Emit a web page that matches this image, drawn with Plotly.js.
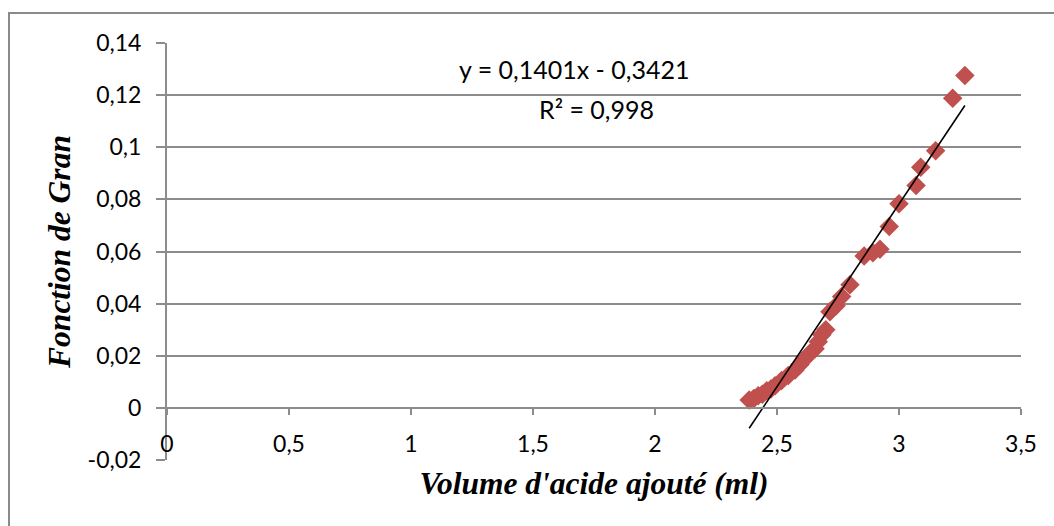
<!DOCTYPE html>
<html>
<head>
<meta charset="utf-8">
<script src="https://cdn.plot.ly/plotly-3.0.1.min.js"></script>
<style>
  html, body { margin: 0; padding: 0; background: #fff; }
  #wrap { position: relative; width: 1054px; height: 526px; overflow: hidden; }
  #chart { position: absolute; left: 0; top: 0; width: 1054px; height: 526px; }
  #frame { position: absolute; left: 8px; top: 12px; width: 1100px; height: 600px;
           border: 2px solid #8a8a8a; pointer-events: none; }
</style>
</head>
<body>
<div id="wrap">
  <div id="chart"></div>
  <div id="frame"></div>
</div>
<script>
// Volume d'acide ajouté (ml)
const volume = [2.386, 2.405, 2.423, 2.440, 2.458, 2.475, 2.492, 2.519, 2.546, 2.574, 2.594, 2.615, 2.635,
                2.656, 2.669, 2.684, 2.700, 2.717, 2.742, 2.765, 2.799, 2.857, 2.893,
                2.922, 2.960, 3.000, 3.070, 3.089, 3.150, 3.220, 3.270];
// Fonction de Gran
const gran = [0.0030, 0.0036, 0.0047, 0.0052, 0.0066, 0.0072, 0.0085, 0.0105, 0.0124, 0.0145, 0.0166, 0.0189, 0.0210,
              0.0227, 0.0254, 0.0281, 0.0300, 0.0369, 0.0392, 0.0427, 0.0472, 0.0583, 0.0595,
              0.0609, 0.0696, 0.0783, 0.0853, 0.0923, 0.0987, 0.1188, 0.1275];
// Linear trendline coefficients (as displayed)
const slope = 0.1401;
const intercept = -0.3421;
const r2 = "0,998";

const xTickVals = [0, 0.5, 1, 1.5, 2, 2.5, 3, 3.5];
const xTickText = ["0", "0,5", "1", "1,5", "2", "2,5", "3", "3,5"];
const yTickVals = [-0.02, 0, 0.02, 0.04, 0.06, 0.08, 0.1, 0.12, 0.14];
const yTickText = ["-0,02", "0", "0,02", "0,04", "0,06", "0,08", "0,1", "0,12", "0,14"];

const xMin = Math.min(...volume), xMax = Math.max(...volume);
const trendX = [xMin, xMax];
const trendY = trendX.map(v => slope * v + intercept);

const gridCol = "#8c8c8c";
const tickFont = { family: "Lato, 'Open Sans', sans-serif", size: 23, color: "#000" };
const titleFont = { family: "'Liberation Serif', 'DejaVu Serif', serif", size: 31.5, color: "#000", weight: "bold", style: "italic" };

const data = [
  {
    x: volume, y: gran, type: "scatter", mode: "markers",
    marker: { symbol: "diamond", size: 15, color: "#C0504D", line: { width: 0 } },
    hoverinfo: "skip", showlegend: false
  },
  {
    x: trendX, y: trendY, type: "scatter", mode: "lines",
    line: { color: "#000", width: 1.6 },
    hoverinfo: "skip", showlegend: false
  }
];

const layout = {
  width: 1054, height: 526,
  margin: { l: 167, r: 33, t: 43, b: 66 },
  paper_bgcolor: "rgba(0,0,0,0)", plot_bgcolor: "rgba(0,0,0,0)",
  showlegend: false,
  xaxis: {
    range: [0, 3.5], anchor: "free", position: 0.125,
    tickvals: xTickVals, ticktext: xTickText,
    showgrid: false, zeroline: false,
    showline: true, linecolor: gridCol, linewidth: 2,
    ticks: "outside", ticklen: 6, tickwidth: 2, tickcolor: gridCol,
    ticklabelstandoff: 10,
    tickfont: tickFont,
    title: { text: "Volume d'acide ajouté (ml)", font: titleFont, standoff: 14 }
  },
  yaxis: {
    range: [-0.02, 0.14],
    tickvals: yTickVals, ticktext: yTickText,
    showgrid: true, gridcolor: gridCol, gridwidth: 2,
    zeroline: false,
    showline: true, linecolor: gridCol, linewidth: 2,
    ticks: "outside", ticklen: 9, tickwidth: 2, tickcolor: gridCol,
    ticklabelstandoff: 10,
    tickfont: tickFont,
    title: { text: "Fonction de Gran", font: titleFont, standoff: 8 }
  },
  annotations: [
    { x: 1.668, y: 0.130, xref: "x", yref: "y", text: "y = 0,1401x - 0,3421", showarrow: false,
      font: { family: "Lato, 'Open Sans', sans-serif", size: 25, color: "#000" } },
    { x: 1.762, y: 0.1147, xref: "x", yref: "y", text: "R² = " + r2, showarrow: false,
      font: { family: "Lato, 'Open Sans', sans-serif", size: 25, color: "#000" } }
  ]
};

Plotly.newPlot("chart", data, layout, { staticPlot: true, displayModeBar: false });
</script>
</body>
</html>
